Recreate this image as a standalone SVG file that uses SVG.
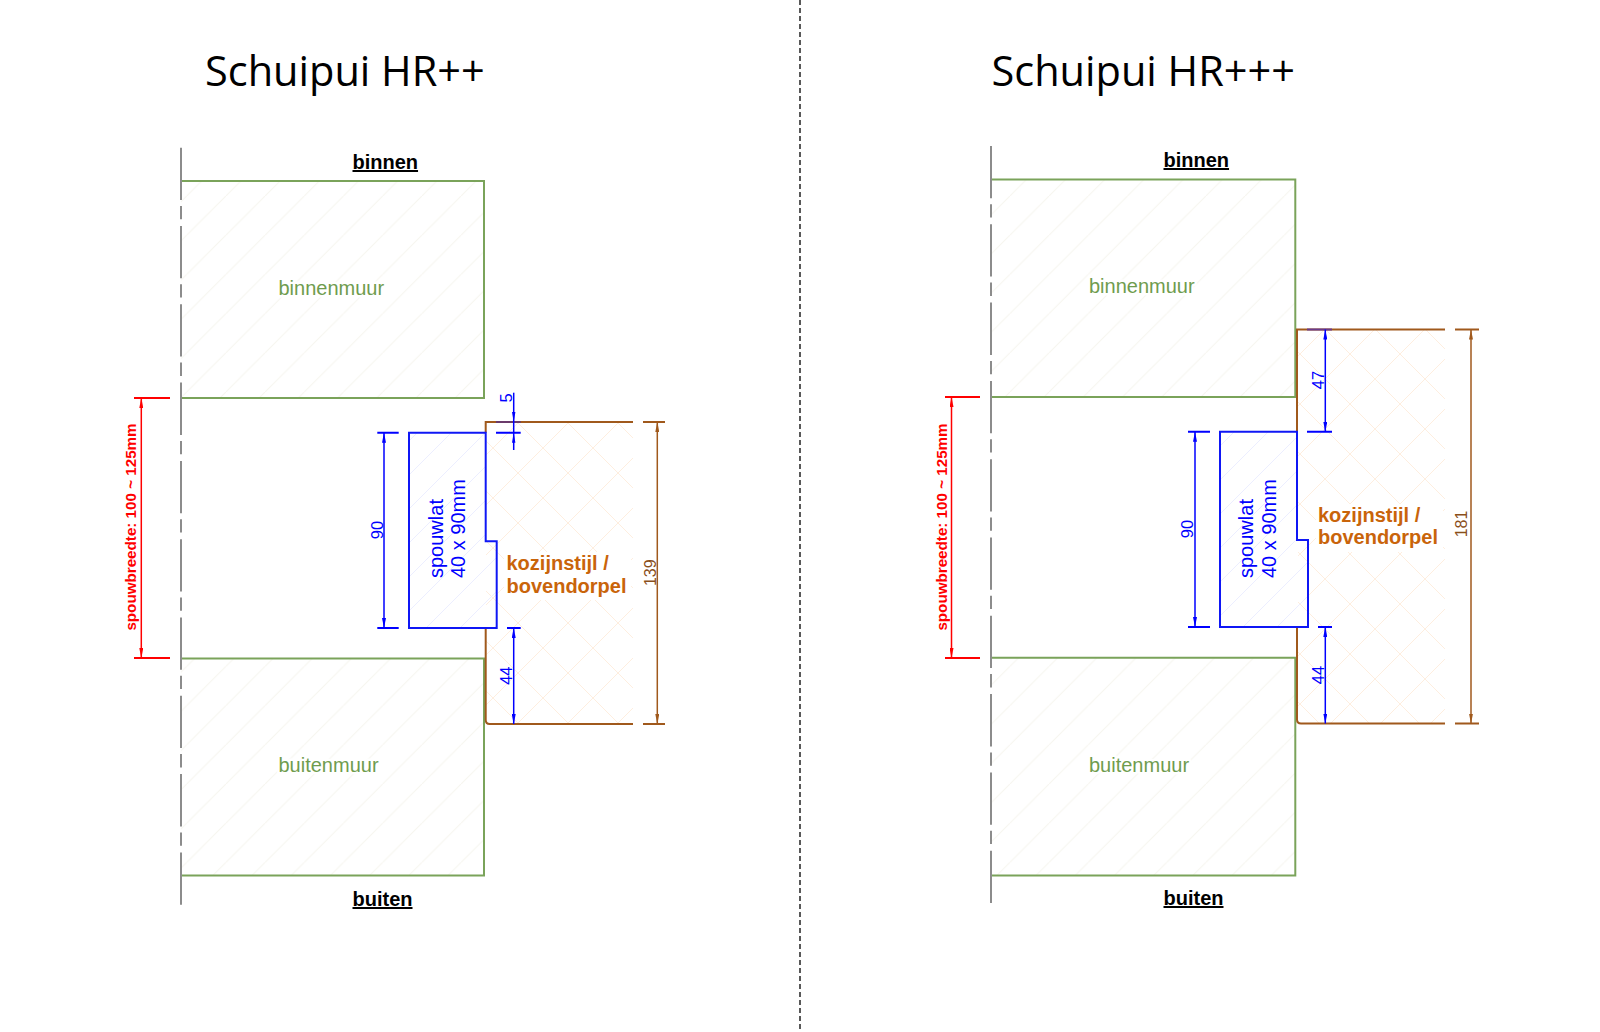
<svg xmlns="http://www.w3.org/2000/svg" width="1600" height="1032" viewBox="0 0 1600 1032">
<style>
text{font-family:"Liberation Sans",Arial,sans-serif}
.title{font-family:"Open Sans","Noto Sans",sans-serif;font-size:41.5px;fill:#000}
.side{font-size:20px;font-weight:bold;fill:#000;text-decoration:underline}
.wallfill{fill:url(#hw)}
.wall{fill:none;stroke:#7aa35a;stroke-width:2}
.walltxt{font-size:20px;fill:#6f9c4e;stroke:#fff;stroke-width:5;paint-order:stroke;stroke-linejoin:round}
.axis{fill:none;stroke:#8c8c8c;stroke-width:2;stroke-dasharray:52.3 6 13.3 6.7}
.brown{fill:none;stroke:#a0591c;stroke-width:2}
.blue{fill:none;stroke:#0000ff;stroke-width:2}
.bluefill{fill:url(#hb);stroke:#0f17f5;stroke-width:2}
.red{fill:none;stroke:#ff0000;stroke-width:2}
.dimb{stroke:#0000ff;stroke-width:1.5;fill:none;marker-start:url(#ab);marker-end:url(#ab)}
.dimr{stroke:#ff0000;stroke-width:1.5;fill:none;marker-start:url(#ar);marker-end:url(#ar)}
.dimn{stroke:#a0591c;stroke-width:1.5;fill:none;marker-start:url(#an);marker-end:url(#an)}
.tb{font-size:16.5px;fill:#0000ff;text-anchor:middle}
.tn{font-size:16px;fill:#8a4f1a;text-anchor:middle}
.tr{font-size:15.2px;font-weight:bold;fill:#ff0000;text-anchor:middle}
.lat{font-size:20px;fill:#0000ff}
.koz{font-size:20px;font-weight:bold;fill:#c9640a}
</style>
<defs>
<pattern id="hw" patternUnits="userSpaceOnUse" x="29.9" y="0" width="39.2" height="39.2"><path d="M0 39.2L39.2 0" stroke="#f6f5ee" stroke-width="1" fill="none"/></pattern>
<pattern id="hb" patternUnits="userSpaceOnUse" x="0" y="0" width="34" height="34"><path d="M0 34L34 0" stroke="#eceeff" stroke-width="1" fill="none"/></pattern>
<pattern id="hk" patternUnits="userSpaceOnUse" x="568" y="423" width="50" height="50"><path d="M0 0L50 50M0 50L50 0" stroke="#feeedf" stroke-width="1" fill="none"/></pattern>
<pattern id="hk2" patternUnits="userSpaceOnUse" x="1375" y="329" width="50" height="50"><path d="M0 0L50 50M0 50L50 0" stroke="#feeedf" stroke-width="1" fill="none"/></pattern>
<marker id="ab" viewBox="0 0 10 4" refX="10" refY="2" markerUnits="userSpaceOnUse" markerWidth="10" markerHeight="4" orient="auto-start-reverse"><path d="M0 0L10 2L0 4Z" fill="#0000ff"/></marker>
<marker id="ar" viewBox="0 0 10 4" refX="10" refY="2" markerUnits="userSpaceOnUse" markerWidth="10" markerHeight="4" orient="auto-start-reverse"><path d="M0 0L10 2L0 4Z" fill="#ff0000"/></marker>
<marker id="an" viewBox="0 0 10 4" refX="10" refY="2" markerUnits="userSpaceOnUse" markerWidth="10" markerHeight="4" orient="auto-start-reverse"><path d="M0 0L10 2L0 4Z" fill="#a0591c"/></marker>
</defs>
<rect width="1600" height="1032" fill="#fff"/>
<path id="divider" d="M800 0V1029" stroke="#000" stroke-width="1.3" stroke-dasharray="5 3" fill="none"/>

<g id="left-detail">
<text class="title" x="205" y="86">Schuipui HR++</text>
<g id="left-binnenmuur"><rect class="wallfill" x="181" y="181" width="303" height="217"/><path class="wall" d="M181 181H484V398H181"/><text class="walltxt" x="278.5" y="295">binnenmuur</text></g>
<g id="left-buitenmuur"><rect class="wallfill" x="181" y="658.5" width="303" height="217"/><path class="wall" d="M181 658.5H484V875.5H181"/><text class="walltxt" x="278.5" y="772">buitenmuur</text></g>
<path class="axis" d="M181 147.7V905"/>
<text class="side" x="352.5" y="169">binnen</text>
<text class="side" x="352.5" y="906">buiten</text>
<g id="left-kozijn">
<rect x="486" y="422" width="147" height="302" fill="url(#hk)"/>
<rect x="504" y="552" width="127" height="48" fill="#fff"/>
<path class="brown" d="M633 422H485.7V432.7M485.7 628V720Q485.7 724 489.7 724H633M643 422H665M643 724H665"/>
<text class="koz" x="506.5" y="570">kozijnstijl /</text>
<text class="koz" x="506.5" y="592.7">bovendorpel</text>
</g>
<g id="left-spouwlat">
<path class="bluefill" d="M409 432.7H485.7V541.3H496.7V628H409Z"/>
<text class="lat" transform="translate(442.7 578) rotate(-90)">spouwlat</text>
<text class="lat" transform="translate(465 578) rotate(-90)">40 x 90mm</text>
</g>
<g id="left-dimensions">
<path class="red" d="M134 398H170M134 658H170"/><path class="dimr" d="M141.3 398V658"/>
<text class="tr" transform="translate(136 527) rotate(-90)">spouwbreedte: 100 ~ 125mm</text>
<path class="blue" d="M377.3 432.7H398.7M377.3 628H398.7M496 432.7H520.7M507 628H520.7"/>
<path stroke="#6a3a6a" stroke-width="2" d="M496 422H520.7"/>
<path class="dimb" d="M384 432.7V628"/>
<text class="tb" transform="translate(382.7 530) rotate(-90)">90</text>
<path class="dimb" style="marker:none" d="M513.7 392.7V450"/>
<path d="M511.7 432V422L513.7 412L515.7 422V432L513.7 422ZM511.7 432.7V442.7L513.7 432.7L515.7 442.7Z" fill="none"/>
<path d="M512 412L513.7 422L515.4 412ZM512 442.7L513.7 432.7L515.4 442.7Z" fill="#0000ff"/>
<text class="tb" transform="translate(512 398) rotate(-90)">5</text>
<path class="dimb" d="M513.7 628V724"/>
<text class="tb" transform="translate(512 675.7) rotate(-90)">44</text>
<path class="dimn" d="M657.3 422V724"/>
<text class="tn" transform="translate(656 572.7) rotate(-90)">139</text>
</g>
</g>

<g id="right-detail">
<text class="title" x="991.5" y="86">Schuipui HR+++</text>
<g id="right-binnenmuur"><rect class="wallfill" x="991" y="179.5" width="304.3" height="217.5"/><path class="wall" d="M991 179.5H1295.3V397H991"/><text class="walltxt" x="1089" y="293">binnenmuur</text></g>
<g id="right-buitenmuur"><rect class="wallfill" x="991" y="657.7" width="304.3" height="218"/><path class="wall" d="M991 657.7H1295.3V875.5H991"/><text class="walltxt" x="1089" y="772">buitenmuur</text></g>
<path class="axis" d="M991 146V905"/>
<text class="side" x="1163.5" y="167">binnen</text>
<text class="side" x="1163.5" y="905">buiten</text>
<g id="right-kozijn">
<rect x="1298" y="329.5" width="147" height="394" fill="url(#hk2)"/>
<rect x="1316" y="504" width="127" height="48" fill="#fff"/>
<path class="brown" d="M1445 329.5H1297V431.7M1297 627V719.5Q1297 723.5 1301 723.5H1445M1455 329.5H1479M1455 723.5H1479"/>
<text class="koz" x="1318" y="522">kozijnstijl /</text>
<text class="koz" x="1318" y="544">bovendorpel</text>
</g>
<g id="right-spouwlat">
<path class="bluefill" d="M1220 431.7H1297V540H1308V627H1220Z"/>
<text class="lat" transform="translate(1253.3 578) rotate(-90)">spouwlat</text>
<text class="lat" transform="translate(1276 578) rotate(-90)">40 x 90mm</text>
</g>
<g id="right-dimensions">
<path class="red" d="M945 397H980M945 658H980"/><path class="dimr" d="M951.5 397V658"/>
<text class="tr" transform="translate(947 527) rotate(-90)">spouwbreedte: 100 ~ 125mm</text>
<path class="blue" d="M1188 431.7H1210M1188 627H1210M1307 431.7H1332M1318 627H1332"/>
<path stroke="#6a3a8a" stroke-width="2" d="M1307 329.5H1332"/>
<path class="dimb" d="M1195 431.7V627"/>
<text class="tb" transform="translate(1193 529) rotate(-90)">90</text>
<path class="dimb" d="M1325.3 329.5V431.7"/>
<text class="tb" transform="translate(1324 380) rotate(-90)">47</text>
<path class="dimb" d="M1325.3 627V723.5"/>
<text class="tb" transform="translate(1324 675) rotate(-90)">44</text>
<path class="dimn" d="M1471 329.5V723.5"/>
<text class="tn" transform="translate(1467 524) rotate(-90)">181</text>
</g>
</g>
</svg>
